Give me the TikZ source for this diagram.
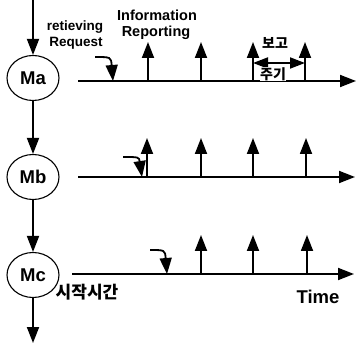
\documentclass[tikz,border=0pt]{standalone}
\usepackage{fontspec}
\setmainfont{Liberation Sans}
\newfontfamily\kr{Noto Sans CJK KR}
\usetikzlibrary{arrows.meta,shapes.geometric}
\begin{document}
\begin{tikzpicture}[x=1pt,y=-1pt,
  tip/.style={-{Triangle[length=16pt,width=12pt]}},
  ln/.style={line width=1.8pt},
  mnode/.style={ellipse,draw,line width=1.1pt,minimum width=52pt,minimum height=45pt,inner sep=0pt,font=\bfseries\fontsize{18.5}{18.5}\selectfont},
  lbl/.style={inner sep=0pt,font=\bfseries\fontsize{13.5}{13.5}\selectfont},
  krl/.style={inner sep=0pt,font=\kr\bfseries\fontsize{14}{14}\selectfont}]
\useasboundingbox (0,0) rectangle (356,347);
% machines
\node[mnode] (Ma) at (33,78) {Ma};
\node[mnode] (Mb) at (33,177) {Mb};
\node[mnode] (Mc) at (33,275) {Mc};
\coordinate (top) at (33,0);
\coordinate (bot) at (33,343);
\draw[ln,tip] (top) -- (Ma);
\draw[ln,tip] (Ma) -- (Mb);
\draw[ln,tip] (Mb) -- (Mc);
\draw[ln,tip] (Mc) -- (bot);
% axes
\coordinate (a0) at (78,81); \coordinate (a1) at (356,81);
\coordinate (b0) at (78,177); \coordinate (b1) at (355,177);
\coordinate (c0) at (72,274); \coordinate (c1) at (354,274);
\draw[ln,tip] (a0) -- (a1);
\draw[ln,tip] (b0) -- (b1);
\draw[ln,tip] (c0) -- (c1);
% reporting arrows
\foreach \x in {148,201,253,305} {\draw[ln,tip] (\x,81) -- (\x,42);}
\foreach \x in {147,201,253,306} {\draw[ln,tip] (\x,177) -- (\x,138);}
\foreach \x in {201,253,307} {\draw[ln,tip] (\x,274) -- (\x,235);}
% request arrows
\coordinate (ra0) at (95,57); \coordinate (ra1) at (113,81);
\coordinate (rb0) at (123,157); \coordinate (rb1) at (142,177);
\coordinate (rc0) at (150,250); \coordinate (rc1) at (167,274);
\draw[ln,tip] (ra0) .. controls (111,57) .. (ra1);
\draw[ln,tip] (rb0) .. controls (139,157) .. (rb1);
\draw[ln,tip] (rc0) .. controls (165,250) .. (rc1);
% period
\coordinate (p0) at (253,63); \coordinate (p1) at (305,63);
\draw[ln,{Triangle[length=15pt,width=11pt]}-{Triangle[length=15pt,width=11pt]}] (p0) -- (p1);
% labels
\node[lbl] (ret) at (75,27) {retieving};
\node[lbl] (req) at (76,43) {Request};
\node[lbl,font=\bfseries\fontsize{14.5}{14.5}\selectfont] (info) at (157,15) {Information};
\node[lbl,font=\bfseries\fontsize{14.5}{14.5}\selectfont] (rep) at (156,33) {Reporting};
\node[krl] (bogo) at (275,43) {보고};
\node[krl,fill=white,inner sep=0.5pt] (jugi) at (273,74) {주기};
\node[krl,font=\kr\bfseries\fontsize{17}{17}\selectfont] (start) at (87,292) {시작시간};
\node[lbl,font=\bfseries\fontsize{18.5}{18.5}\selectfont] (time) at (318,297) {Time};
\end{tikzpicture}
\end{document}
